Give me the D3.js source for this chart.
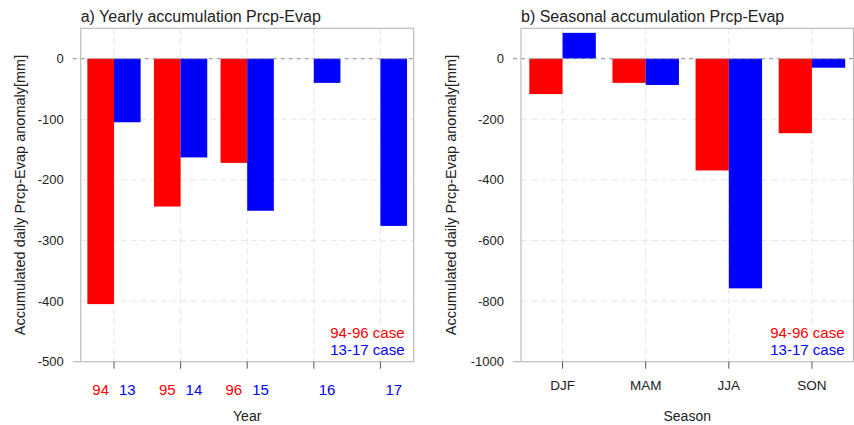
<!DOCTYPE html>
<html>
<head>
<meta charset="utf-8">
<script src="https://cdn.jsdelivr.net/npm/d3@7"></script>
<style>
  html, body { margin: 0; padding: 0; background: #fff; }
  svg { display: block; font-family: "Liberation Sans", Arial, Helvetica, sans-serif; }
</style>
</head>
<body>
<svg id="chart" width="854" height="425"></svg>
<script>
// ---- Data ----
// Panel a: yearly
const yearRedLabels = ["94", "95", "96", "", ""];
const yearBlueLabels = ["13", "14", "15", "16", "17"];
const yearRed = [-405, -244, -172, null, null];   // 94-96 case
const yearBlue = [-105, -163, -251, -40, -276];   // 13-17 case
const yearTicks = [0, -100, -200, -300, -400, -500];

// Panel b: seasonal
const seasons = ["DJF", "MAM", "JJA", "SON"];
const seasonRed = [-117, -80, -369, -246];
const seasonBlue = [85, -87, -758, -30];
const seasonTicks = [0, -200, -400, -600, -800, -1000];

const legendLabels = ["94-96 case", "13-17 case"];
const RED = "#ff0000", BLUE = "#0000ff";

const svg = d3.select("#chart");

function drawPanel(cfg) {
  const g = svg.append("g");
  const n = cfg.red.length;
  const x = d3.scaleLinear().domain([0.5, n + 0.5]).range([cfg.left, cfg.right]);
  const y = d3.scaleLinear().domain(cfg.yDomain).range([cfg.bottom, cfg.top]);
  const idx = d3.range(1, n + 1);

  // grid
  g.selectAll(".vgrid").data(idx).join("line")
    .attr("x1", d => x(d)).attr("x2", d => x(d))
    .attr("y1", cfg.top).attr("y2", cfg.bottom)
    .attr("stroke", "#e6e6e6").attr("stroke-width", 1).attr("stroke-dasharray", "6,4");
  g.selectAll(".hgrid").data(cfg.ticks.filter(t => t !== 0 && t !== cfg.yDomain[0])).join("line")
    .attr("x1", cfg.left).attr("x2", cfg.right)
    .attr("y1", d => y(d)).attr("y2", d => y(d))
    .attr("stroke", "#e6e6e6").attr("stroke-width", 1).attr("stroke-dasharray", "6,4");

  // bars
  const bw = 0.4;
  const redData = cfg.red.map((v, i) => ({ v, i: i + 1 })).filter(d => d.v !== null);
  const blueData = cfg.blue.map((v, i) => ({ v, i: i + 1 })).filter(d => d.v !== null);
  g.selectAll(".rbar").data(redData).join("rect")
    .attr("x", d => x(d.i - bw)).attr("width", d => x(d.i) - x(d.i - bw))
    .attr("y", d => y(Math.max(0, d.v))).attr("height", d => Math.abs(y(d.v) - y(0)))
    .attr("fill", RED);
  g.selectAll(".bbar").data(blueData).join("rect")
    .attr("x", d => x(d.i)).attr("width", d => x(d.i + bw) - x(d.i))
    .attr("y", d => y(Math.max(0, d.v))).attr("height", d => Math.abs(y(d.v) - y(0)))
    .attr("fill", BLUE);

  // zero line
  g.append("line")
    .attr("x1", cfg.left - 8).attr("x2", cfg.right)
    .attr("y1", y(0)).attr("y2", y(0))
    .attr("stroke", "#a0a0a0").attr("stroke-width", 1.2).attr("stroke-dasharray", "4,4");

  // frame
  g.append("rect")
    .attr("x", cfg.left).attr("y", cfg.top)
    .attr("width", cfg.right - cfg.left).attr("height", cfg.bottom - cfg.top)
    .attr("fill", "none").attr("stroke", "#bdbdbd").attr("stroke-width", 1.2);
  g.append("line")
    .attr("x1", cfg.left - 8).attr("x2", cfg.left)
    .attr("y1", cfg.bottom).attr("y2", cfg.bottom)
    .attr("stroke", "#bdbdbd").attr("stroke-width", 1.2);

  // x ticks
  g.selectAll(".xt").data(idx).join("line")
    .attr("x1", d => x(d)).attr("x2", d => x(d))
    .attr("y1", cfg.bottom).attr("y2", cfg.bottom + 7)
    .attr("stroke", "#555").attr("stroke-width", 1);

  // y tick labels (plain hyphen minus, as in the original)
  g.selectAll(".yl").data(cfg.ticks).join("text")
    .attr("x", cfg.left - 17).attr("y", d => y(d) + 4.5)
    .attr("text-anchor", "end").attr("font-size", 13).attr("fill", "#222")
    .text(d => String(d));

  // x labels
  if (cfg.xLabelsRed) {
    g.selectAll(".xr").data(idx.filter(i => cfg.xLabelsRed[i - 1] !== "")).join("text")
      .attr("x", d => x(d - bw / 2)).attr("y", 395)
      .attr("text-anchor", "middle").attr("font-size", 15).attr("fill", RED)
      .text(d => cfg.xLabelsRed[d - 1]);
    g.selectAll(".xb").data(idx).join("text")
      .attr("x", d => x(d + bw / 2)).attr("y", 395)
      .attr("text-anchor", "middle").attr("font-size", 15).attr("fill", BLUE)
      .text(d => cfg.xLabelsBlue[d - 1]);
  } else {
    g.selectAll(".xc").data(idx).join("text")
      .attr("x", d => x(d)).attr("y", 390)
      .attr("text-anchor", "middle").attr("font-size", 13.5).attr("fill", "#222")
      .text(d => cfg.xLabels[d - 1]);
  }

  // axis titles
  g.append("text")
    .attr("x", (cfg.left + cfg.right) / 2).attr("y", 421)
    .attr("text-anchor", "middle").attr("font-size", 14).attr("fill", "#222")
    .text(cfg.xTitle);
  g.append("text")
    .attr("transform", `translate(${cfg.yTitleX},${(cfg.top + cfg.bottom) / 2}) rotate(-90)`)
    .attr("text-anchor", "middle").attr("font-size", 14.5).attr("fill", "#222")
    .text("Accumulated daily Prcp-Evap anomaly[mm]");

  // title
  g.append("text")
    .attr("x", cfg.left).attr("y", 22)
    .attr("font-size", 16).attr("fill", "#222")
    .text(cfg.title);

  // legend
  g.append("text")
    .attr("x", cfg.legendX).attr("y", 338)
    .attr("text-anchor", "end").attr("font-size", 15).attr("fill", RED)
    .text(legendLabels[0]);
  g.append("text")
    .attr("x", cfg.legendX).attr("y", 355)
    .attr("text-anchor", "end").attr("font-size", 15).attr("fill", BLUE)
    .text(legendLabels[1]);
}

drawPanel({
  left: 80.7, right: 413.7, top: 28.3, bottom: 361.7,
  yDomain: [-500, 50], ticks: yearTicks,
  red: yearRed, blue: yearBlue,
  xLabelsRed: yearRedLabels, xLabelsBlue: yearBlueLabels,
  xTitle: "Year", yTitleX: 25,
  title: "a) Yearly accumulation Prcp-Evap",
  legendX: 404.5
});

drawPanel({
  left: 521, right: 853.5, top: 28.3, bottom: 361.7,
  yDomain: [-1000, 100], ticks: seasonTicks,
  red: seasonRed, blue: seasonBlue,
  xLabels: seasons,
  xTitle: "Season", yTitleX: 456,
  title: "b) Seasonal accumulation Prcp-Evap",
  legendX: 844.5
});
</script>
</body>
</html>
